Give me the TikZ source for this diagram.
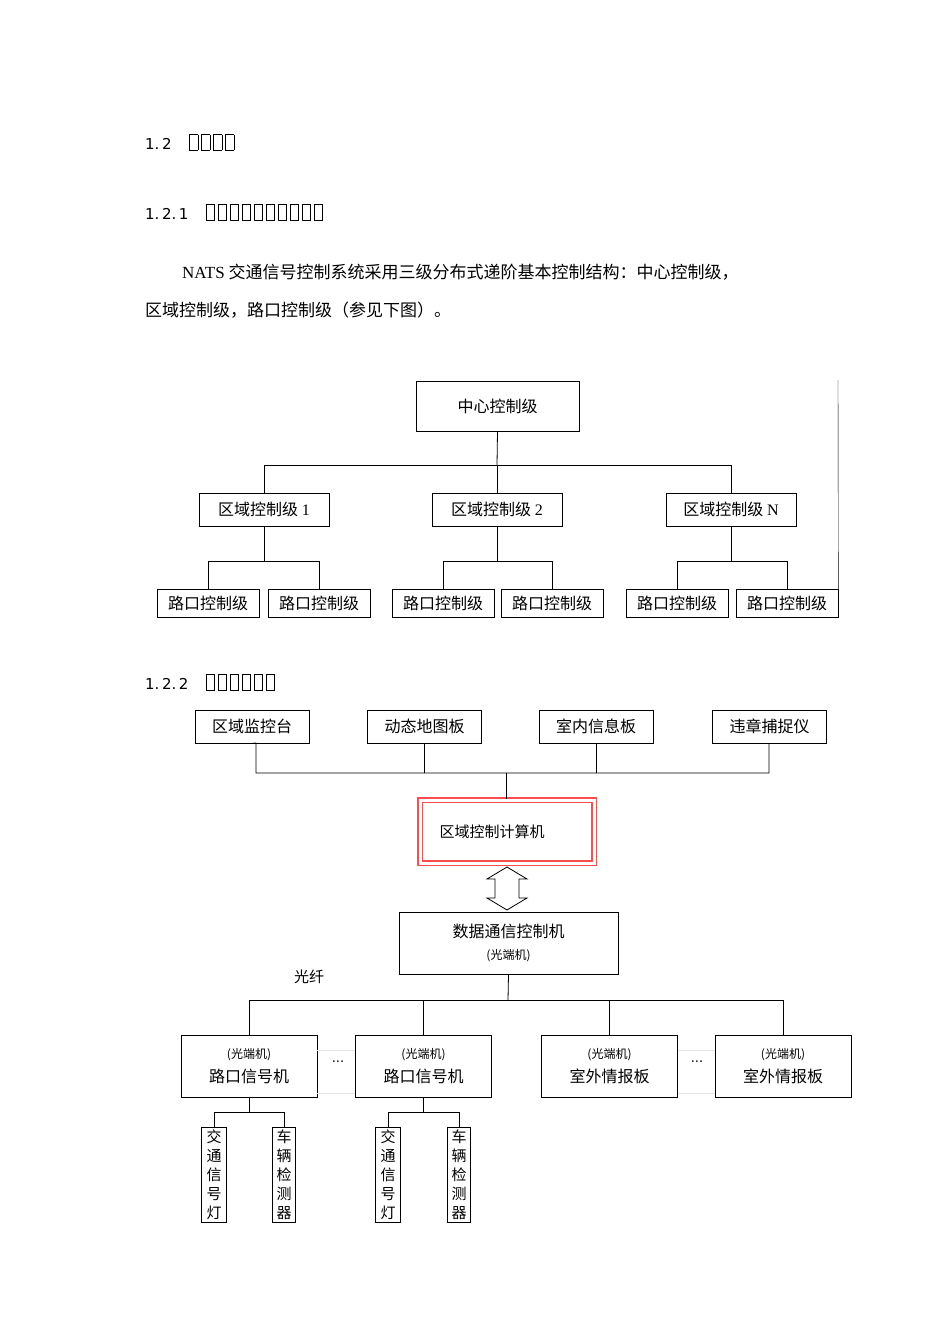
\documentclass[tikz,border=0pt]{standalone}
\usepackage{fontspec}
\setmainfont{Liberation Serif}
\newfontfamily\cjk{Noto Sans CJK SC}
\newfontfamily\dv{DejaVu Sans}
\newcommand{\tofu}[1]{{\foreach \i in {1,...,#1}{\framebox(8,15){}\hspace{4pt}}}}
\begin{document}
\begin{tikzpicture}[x=1pt,y=-1pt,
  bx/.style={draw,thick,inner sep=0pt,font=\cjk\fontsize{16}{18}\selectfont},
  ln/.style={thick},
  hd/.style={anchor=west,inner sep=0pt,font=\dv\fontsize{15}{17}\selectfont}]
\useasboundingbox (0,0) rectangle (950,1344);
% headings
\node[hd] (h1) at (145,142) {1.\,2\hspace{18pt}\tofu{4}};
\node[hd] (h2) at (145,212) {1.\,2.\,1\hspace{18pt}\tofu{10}};
\node[hd] (h3) at (145,682) {1.\,2.\,2\hspace{18pt}\tofu{6}};
\node[anchor=west,inner sep=0pt,font=\cjk\fontsize{17}{19}\selectfont] (p1) at (182,272) {{\rmfamily NATS} 交通信号控制系统采用三级分布式递阶基本控制结构：中心控制级，};
\node[anchor=west,inner sep=0pt,font=\cjk\fontsize{17}{19}\selectfont] (p2) at (145,310) {区域控制级，路口控制级（参见下图）。};
% diagram 1
\node[bx,minimum width=163,minimum height=50] (c) at (497.5,406) {中心控制级};
\foreach \n/\x/\t in {r1/264/1,r2/497/2,r3/731/N}
  \node[bx,minimum width=130,minimum height=33] (\n) at (\x,509.5) {区域控制级 {\rmfamily\t}};
\draw[ln] (c.south) -- (497,465);
\draw[ln] (r1.north) |- (r3.north |- 0,465) -- (r3.north);
\draw[ln] (r2.north) -- (497,465);
\foreach \n/\x in {a/208,b/319,c/443,d/552,e/677,f/787}
  \node[bx,minimum width=102,minimum height=28] (l\n) at (\x,603) {路口控制级};
\foreach \r/\p/\q in {r1/a/b,r2/c/d,r3/e/f}{
  \draw[ln] (\r.south) -- (\r.south |- 0,561);
  \draw[ln] (l\p.north) |- (l\q.north |- 0,561) -- (l\q.north);}
\coordinate (rt) at (838,380);
\draw (rt) -- (lf.north east |- 0,617);
% diagram 2
\foreach \n/\x/\t in {t1/252/区域监控台,t2/424.5/动态地图板,t3/596/室内信息板,t4/769.5/违章捕捉仪}
  \node[bx,minimum width=114,minimum height=33] (\n) at (\x,726.5) {\t};
\draw[ln] (t1.south) -- (256,743) -- (256,773) -| (769,743);
\draw[ln] (424.5,743) -- (424.5,773); \draw[ln] (596,743) -- (596,773);
\node[draw=red!70,double=white,double distance=3pt,line width=1.2pt,minimum width=174,minimum height=63,font=\cjk\fontsize{15}{17}\selectfont] (rc) at (507,831.5) {\hspace*{-30pt}区域控制计算机\\[6pt]};
\draw[ln] (506,773) -- (rc.north -| 506,0);
\node[bx,minimum width=219,minimum height=62,align=center] (dc) at (508.5,943) {数据通信控制机\\[4pt]{\fontsize{12}{14}\selectfont (光端机)}};
\draw[thick,fill=white] (507,867) -- (527,879) -- (519,879) -- (519,898) -- (527,898) -- (507,910) -- (487,898) -- (495,898) -- (495,879) -- (487,879) -- cycle;
\node[font=\cjk\fontsize{15}{17}\selectfont] (gx) at (309,977) {光纤};
\foreach \n/\x/\t in {s1/249/路口信号机,s2/423.5/路口信号机,s3/609.5/室外情报板,s4/783/室外情报板}
  \node[bx,minimum width=136,minimum height=62,align=center] (\n) at (\x,1066) {{\fontsize{12}{14}\selectfont (光端机)}\\[6pt]\t};
\draw[ln] (dc.south) -- (508,1000);
\draw[ln] (s1.north) |- (s4.north |- 0,1000) -- (s4.north);
\draw[ln] (s2.north) -- (423.5,1000); \draw[ln] (s3.north) -- (609.5,1000);
\node[font=\dv\fontsize{13}{13}\selectfont] (d1) at (338,1062) {...};
\node[font=\dv\fontsize{13}{13}\selectfont] (d2) at (697,1062) {...};
\draw[black!10] (s1.east |- 0,1050) -- (s2.west |- 0,1050) (s1.east |- 0,1093) -- (s2.west |- 0,1093);
\draw[black!10] (s3.east |- 0,1050) -- (s4.west |- 0,1050) (s3.east |- 0,1093) -- (s4.west |- 0,1093);
\foreach \s/\xa/\xb/\k in {s1/214/284/a,s2/388/459/b}{
  \node[bx,minimum width=25,minimum height=95,align=center,font=\cjk\fontsize{15}{19}\selectfont,anchor=north] (v1\k) at (\xa,1127) {交\\通\\信\\号\\灯};
  \node[bx,minimum width=23,minimum height=95,align=center,font=\cjk\fontsize{15}{19}\selectfont,anchor=north] (v2\k) at (\xb,1127) {车\\辆\\检\\测\\器};
  \draw[ln] (\s.south) -- (\s.south |- 0,1112);
  \draw[ln] (v1\k.north) |- (v2\k.north |- 0,1112) -- (v2\k.north);}
\end{tikzpicture}
\end{document}
